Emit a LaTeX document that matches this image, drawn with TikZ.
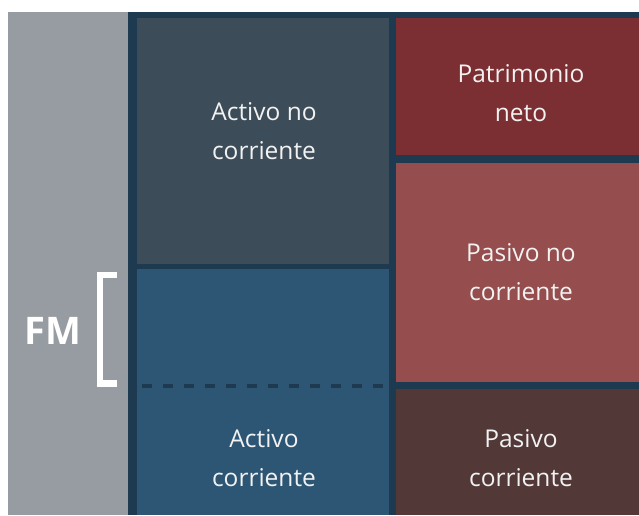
\documentclass[tikz,border=0pt]{standalone}
\usepackage{fontspec}
\setmainfont{Open Sans}
\definecolor{graypanel}{HTML}{979CA2}
\definecolor{frame}{HTML}{1E3A51}
\definecolor{anc}{HTML}{3C4C58}
\definecolor{ac}{HTML}{2D5675}
\definecolor{pn}{HTML}{7C2F33}
\definecolor{pnc}{HTML}{954D4D}
\definecolor{pc}{HTML}{533838}
\definecolor{txt}{HTML}{F2F2F2}
\begin{document}
\begin{tikzpicture}[x=1pt,y=-1pt,
  box/.style={draw=none,inner sep=0pt,outer sep=0pt,anchor=north west},
  lbl/.style={text=txt,font=\fontsize{24.5}{38.5}\selectfont,align=center,inner sep=0pt}]
\useasboundingbox (0,0) rectangle (639,515);
\fill[white] (0,0) rectangle (639,515);
% left gray panel
\node[box,fill=graypanel,minimum width=120pt,minimum height=503pt] (panel) at (8,12) {};
% dark frame
\node[box,fill=frame,minimum width=511pt,minimum height=503pt] (frm) at (128,12) {};
% left column
\node[box,fill=anc,minimum width=252pt,minimum height=246pt] (anc) at (137,18) {};
\node[box,fill=ac,minimum width=252pt,minimum height=246pt] (ac) at (137,269) {};
% right column
\node[box,fill=pn,minimum width=243pt,minimum height=137pt] (pn) at (396,18) {};
\node[box,fill=pnc,minimum width=243pt,minimum height=219pt] (pnc) at (396,163) {};
\node[box,fill=pc,minimum width=243pt,minimum height=126pt] (pc) at (396,389) {};
% dashed line in activo corriente
\coordinate (dL) at (140,386);
\coordinate (dR) at (389,386);
\draw[frame,line width=4pt,dash pattern=on 10pt off 11pt,dash phase=-2pt] (dL) -- (dR);
% labels
\node[lbl] (tanc) at (264,131) {Activo no\\corriente};
\node[lbl] (tac) at (264,458) {Activo\\corriente};
\node[lbl] (tpn) at (521,93) {Patrimonio\\neto};
\node[lbl] (tpnc) at (521,272) {Pasivo no\\corriente};
\node[lbl] (tpc) at (521,458) {Pasivo\\corriente};
% FM bracket
\coordinate (bt) at (117,275);
\coordinate (bb) at (117,383.5);
\draw[white,line width=6.5pt,line join=miter] (bt) -- (100,275) -- (100,383.5) -- (bb);
\node[text=white,font=\fontsize{38}{40}\selectfont\bfseries,inner sep=0pt] (fm) at (53,331) {FM};
\end{tikzpicture}
\end{document}
